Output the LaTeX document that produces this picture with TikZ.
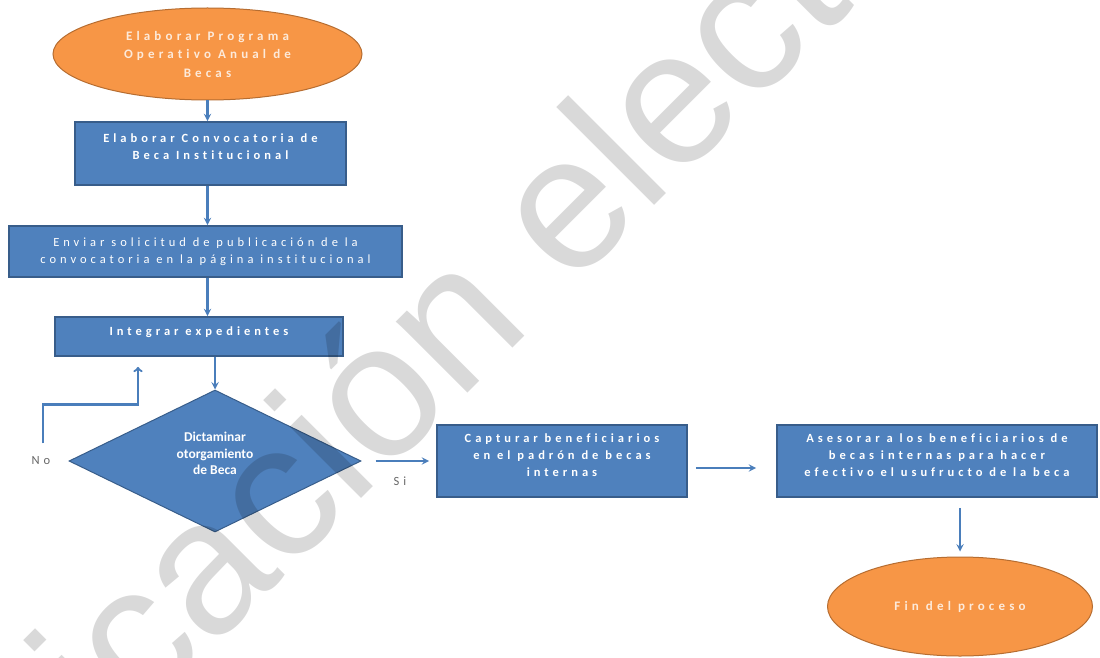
\documentclass[tikz,border=0pt]{standalone}
\usepackage{fontspec}
\setmainfont{Carlito}
\newfontfamily\espaciada[LetterSpace=32, Ligatures=NoCommon]{Carlito}
\newfontfamily\fuentesello{Liberation Sans}
\usepackage{tikz}
\usetikzlibrary{shapes.geometric, arrows}
\definecolor{azul}{HTML}{4F81BD}
\definecolor{azulborde}{HTML}{385D8A}
\definecolor{naranja}{HTML}{F79646}
\definecolor{naranjaborde}{HTML}{B66D31}
\definecolor{flecha}{HTML}{4A7EBB}
\definecolor{crema}{HTML}{FDEADA}
\newcommand{\bajar}[1]{\rule[-#1]{0pt}{#1}}
\tikzstyle{startstop} = [ellipse, draw=naranjaborde, line width=1pt, fill=naranja, text=crema, text centered, align=center, font=\espaciada\bfseries\fontsize{13}{18.5}\selectfont]
\tikzstyle{process} = [rectangle, draw=azulborde, line width=1.8pt, fill=azul, text=white, text centered, align=center, font=\espaciada\bfseries\fontsize{12.5}{17}\selectfont]
\tikzstyle{decision} = [diamond, aspect=2, draw=azulborde, line width=1pt, fill=azul, text=white, align=center, inner sep=0pt, font=\bfseries\fontsize{13.5}{16.5}\selectfont]
\tikzstyle{etiqueta} = [text=gray!80!black, font=\espaciada\fontsize{12.5}{13}\selectfont]
\tikzstyle{sello} = [anchor=base west, rotate=45, inner sep=0pt, text=black, text opacity=0.15, font=\fuentesello\fontsize{191}{191}\selectfont]
\tikzstyle{arrow} = [line width=2.2pt, draw=flecha, ->, >=stealth]
\tikzstyle{retorno} = [line width=2.2pt, draw=flecha, ->, >=to]

\begin{document}
\begin{tikzpicture}[node distance=98pt, auto, x=1pt, y=1pt]
	\useasboundingbox (0,0) rectangle (1100,-658);
	\node(start) [startstop, minimum width=309pt, minimum height=92pt] at (207.5,-54) {Elaborar Programa\\Operativo Anual de\\Becas};
	%----------------------------------------------------%
	\node(conv) [process, below of=start, xshift=3pt, yshift=-1.5pt, minimum width=271pt, minimum height=63pt] {Elaborar Convocatoria de\\Beca Institucional\bajar{13pt}};
	\node(envio) [process, below of=conv, xshift=-5pt, minimum width=393pt, minimum height=51pt, font=\espaciada\fontsize{12.5}{17}\selectfont] {Enviar solicitud de publicación de la\\convocatoria en la página institucional};
	\node(integrar) [process, below of=envio, xshift=-6.5pt, yshift=13pt, minimum width=288pt, minimum height=39pt] {Integrar expedientes\bajar{11pt}};
	\node(dictamen) [decision, below of=integrar, xshift=16pt, yshift=-26.5pt, minimum width=292pt, minimum height=142pt] {Dictaminar\\otorgamiento\\de Beca\bajar{15pt}};

	\draw[arrow] (start) -- (start |- conv.north);
	\draw[arrow] (start |- conv.south) -- (start |- envio.north);
	\draw[arrow] (start |- envio.south) -- (start |- integrar.north);
	\draw[arrow] (dictamen |- integrar.south) -- (dictamen.north);

	%----------------------------------------------------%
	\node(no) [etiqueta, left of=dictamen, xshift=-76pt] {No};
	\coordinate (regreso) at ([xshift=-61pt, yshift=-10pt]integrar.south);
	\draw[retorno] ([yshift=10pt, xshift=2pt]no.north) -- ++(0,39) -| (regreso);

	\node(si) [etiqueta, right of=dictamen, xshift=87pt, yshift=-20pt] {Si};
	\node(captura) [process, right of=dictamen, xshift=249pt, minimum width=250pt, minimum height=72pt] {Capturar beneficiarios\\en el padrón de becas\\internas\bajar{12pt}};
	\node(asesoria) [process, right of=captura, xshift=277pt, minimum width=320pt, minimum height=72pt] {Asesorar a los beneficiarios de\\becas internas para hacer\\efectivo el usufructo de la beca\bajar{12pt}};
	\node(fin) [startstop, below of=asesoria, xshift=23pt, yshift=-47.5pt, minimum width=265pt, minimum height=99pt] {Fin del proceso};

	\draw[arrow, shorten <=14pt, shorten >=7pt] (dictamen.east) -- (captura.west);
	\draw[arrow, shorten <=8pt, shorten >=20pt] ([yshift=-7pt]captura.east) -- ([yshift=-7pt]asesoria.west);
	\draw[arrow, shorten <=10pt, shorten >=5pt] (fin |- asesoria.south) -- (fin.north);

	%----------------------------------------------------%
	\begin{scope}
		\clip (0,0) rectangle (1100,-658);
		\node(marca) [sello] at (112.7,-747.8) {icación elect};
	\end{scope}
\end{tikzpicture}
\end{document}
